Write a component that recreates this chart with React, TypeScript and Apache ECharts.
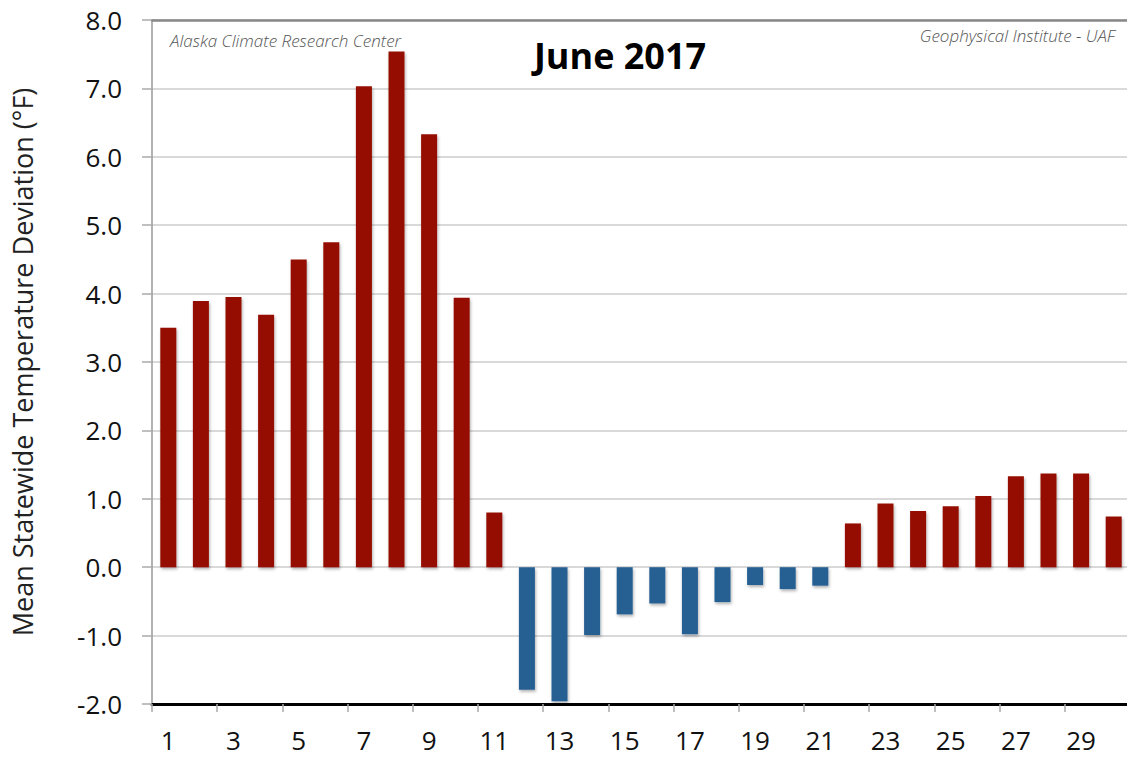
import React, { useEffect, useRef } from "react";
import * as echarts from "echarts";

const days: string[] = Array.from({ length: 30 }, (_, i) => String(i + 1));
const deviations: number[] = [
  3.5, 3.89, 3.95, 3.69, 4.5, 4.75, 7.03, 7.54, 6.33, 3.94,
  0.8, -1.79, -1.96, -0.99, -0.69, -0.53, -0.98, -0.51, -0.26, -0.32,
  -0.27, 0.64, 0.93, 0.82, 0.89, 1.04, 1.33, 1.37, 1.37, 0.74,
];
const yTicks = { min: -2, max: 8, interval: 1 };
const titleText = "June 2017";
const leftCredit = "Alaska Climate Research Center";
const rightCredit = "Geophysical Institute - UAF";
const yName = "Mean Statewide Temperature Deviation (°F)";

const RED = "#941100";
const BLUE = "#265E92";
const FONT = "Open Sans";

export default function App() {
  const ref = useRef<HTMLDivElement>(null);
  useEffect(() => {
    if (!ref.current) return;
    const chart = echarts.init(ref.current, null, { renderer: "svg" });
    chart.setOption({
      animation: false,
      backgroundColor: "#ffffff",
      textStyle: { fontFamily: FONT },
      grid: {
        left: 152,
        top: 20,
        width: 978,
        height: 684,
        containLabel: false,
        outerBoundsMode: "none",
      },
      xAxis: [
        {
          type: "category",
          data: days,
          position: "bottom",
          axisLine: { onZero: false, lineStyle: { color: "#000", width: 3 } },
          axisTick: { show: true, alignWithLabel: false, length: 8, lineStyle: { color: "#aaa", width: 1.5 } },
          axisLabel: { interval: 1, color: "#111", fontSize: 26, fontFamily: FONT, margin: 23 },
          splitLine: { show: false },
        },
        {
          type: "category",
          data: days,
          position: "top",
          axisLine: { onZero: false, lineStyle: { color: "#888", width: 2.5 } },
          axisTick: { show: false },
          axisLabel: { show: false },
          splitLine: { show: false },
        },
      ],
      yAxis: {
        type: "value",
        min: yTicks.min,
        max: yTicks.max,
        interval: yTicks.interval,
        name: yName,
        nameLocation: "middle",
        nameRotate: 90,
        nameGap: 116,
        nameTextStyle: { fontSize: 27, color: "#222", fontFamily: FONT },
        axisLine: { show: true, lineStyle: { color: "#999", width: 1.5 } },
        axisTick: { show: true, length: 10, lineStyle: { color: "#aaa", width: 1.5 } },
        axisLabel: {
          color: "#111",
          fontSize: 26,
          fontFamily: FONT,
          margin: 30,
          formatter: (v: number) => v.toFixed(1),
        },
        splitLine: { show: true, lineStyle: { color: "#cccccc", width: 1.5 } },
      },
      series: [
        {
          type: "bar",
          data: deviations,
          barWidth: 16,
          itemStyle: {
            color: (p: any) => (p.value >= 0 ? RED : BLUE),
            shadowColor: "rgba(0,0,0,0.3)",
            shadowBlur: 3,
            shadowOffsetX: 1,
            shadowOffsetY: 2,
          },
        },
      ],
      graphic: [
        {
          type: "text",
          x: 620,
          y: 55,
          style: {
            text: titleText,
            fontSize: 36,
            fontWeight: "bold",
            fontFamily: FONT,
            fill: "#000",
            textAlign: "center",
            textVerticalAlign: "middle",
          },
        },
        {
          type: "text",
          x: 170,
          y: 40,
          style: {
            text: leftCredit,
            fontSize: 17,
            fontStyle: "italic",
            fontWeight: 300,
            fontFamily: FONT,
            fill: "#555",
            textAlign: "left",
            textVerticalAlign: "middle",
          },
        },
        {
          type: "text",
          x: 1115,
          y: 35,
          style: {
            text: rightCredit,
            fontSize: 17,
            fontStyle: "italic",
            fontWeight: 300,
            fontFamily: FONT,
            fill: "#555",
            textAlign: "right",
            textVerticalAlign: "middle",
          },
        },
      ],
    });
    return () => chart.dispose();
  }, []);
  return (
    <div
      ref={ref}
      style={{ position: "fixed", left: 0, top: 0, width: 1127, height: 760 }}
    />
  );
}
